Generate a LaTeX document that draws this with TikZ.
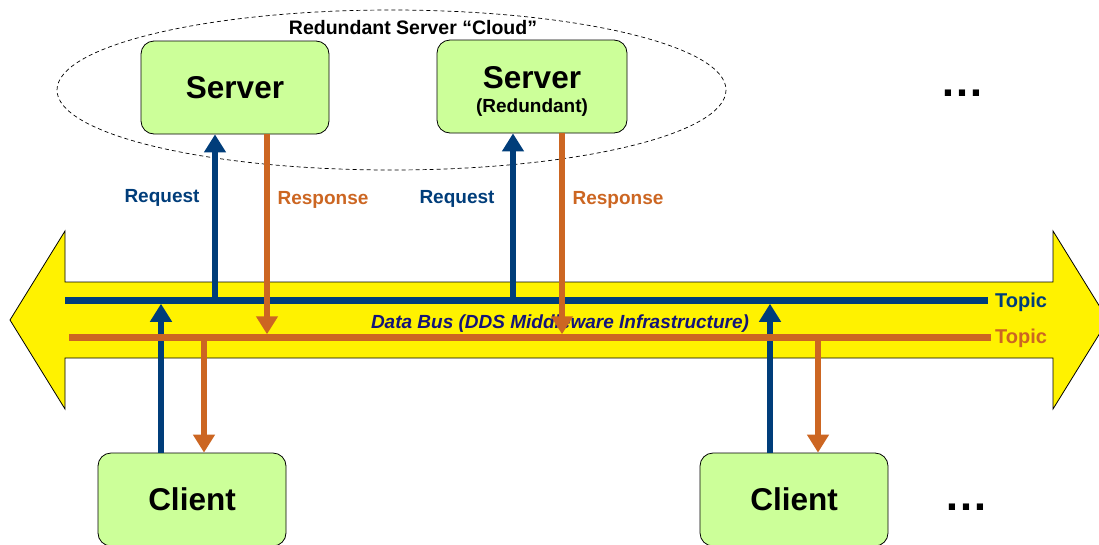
\documentclass[tikz,border=0pt]{standalone}
\usepackage{fontspec}
\setmainfont{Liberation Sans}
\usetikzlibrary{arrows.meta}
\definecolor{ddsblue}{RGB}{0,61,122}
\definecolor{ddsorange}{RGB}{204,102,34}
\definecolor{busnavy}{RGB}{20,20,120}
\definecolor{boxgreen}{RGB}{204,255,153}

\begin{document}
\begin{tikzpicture}[x=1pt,y=-1pt,
  box/.style={draw=black,line width=0.8pt,fill=boxgreen,rounded corners=13pt,minimum width=188pt,minimum height=93pt,inner sep=0pt,align=center,font=\fontsize{31.5}{24}\selectfont\bfseries},
  req/.style={draw=ddsblue,line width=6.5pt,-{Triangle[width=21pt,length=18pt]}},
  resp/.style={draw=ddsorange,line width=6.5pt,-{Triangle[width=21pt,length=18pt]}},
  lbl/.style={inner sep=0pt,anchor=base,font=\fontsize{19}{20}\selectfont\bfseries},
  dots/.style={inner sep=0pt,anchor=base,font=\fontsize{44}{44}\selectfont\bfseries}]
\useasboundingbox (0,0) rectangle (1099,544);
\clip (0,0) rectangle (1099,544);
\fill[yellow,draw=black,line width=0.8pt] (10,320) -- (65,231) -- (65,282) -- (1053,282) -- (1053,231) -- (1108,320) -- (1053,409) -- (1053,358) -- (65,358) -- (65,409) -- cycle;
\draw[dash pattern=on 4pt off 3pt,line width=0.7pt] (391.5,90) ellipse [x radius=334.5,y radius=80];
\node[lbl,font=\fontsize{19.5}{20}\selectfont\bfseries] (cloud) at (413,34) {Redundant Server “Cloud”};
\node[box] (srv1) at (235,87.5) {Server};
\node[box,minimum width=190pt] (srv2) at (532,86.5) {\rule{0pt}{31pt}Server\\\fontsize{19}{24}\selectfont(Redundant)};
\node[box] (cli1) at (192,499.5) {Client};
\node[box] (cli2) at (794,499.5) {Client};
\node[dots] (more1) at (962,96.5) {…};
\node[dots] (more2) at (966,510.5) {…};
\coordinate (tb0) at (65,300.5);
\coordinate (tb1) at (988,300.5);
\coordinate (to0) at (69,337.5);
\coordinate (to1) at (991,337.5);
\draw[draw=ddsblue,line width=6.5pt] (tb0) -- (tb1);
\node[lbl,anchor=base west,text=ddsblue,font=\fontsize{20}{20}\selectfont\bfseries] (topicb) at (995,307.5) {Topic};
\coordinate (rq1) at (215,300.5);
\coordinate (rq2) at (513,300.5);
\coordinate (rq3) at (161,303.75);
\coordinate (rq4) at (770,303.75);
\draw[req] (rq1) -- (rq1 |- srv1.south);
\draw[req] (rq2) -- (rq2 |- srv2.south);
\draw[req] (rq3 |- cli1.north) -- (rq3);
\draw[req] (rq4 |- cli2.north) -- (rq4);
\node[lbl,text=ddsblue] (req1) at (162,202) {Request};
\node[lbl,text=ddsblue] (req2) at (457,203) {Request};
\node[inner sep=0pt,anchor=base,text=busnavy,font=\fontsize{19}{20}\selectfont\bfseries\itshape] (bus) at (560,328) {Data Bus (DDS Middleware Infrastructure)};
\draw[draw=ddsorange,line width=6.5pt] (to0) -- (to1);
\node[lbl,anchor=base west,text=ddsorange,font=\fontsize{20}{20}\selectfont\bfseries] (topico) at (995,343) {Topic};
\coordinate (rs1) at (267,334.25);
\coordinate (rs2) at (562,334.25);
\coordinate (rs3) at (204,337.5);
\coordinate (rs4) at (818,337.5);
\draw[resp] (rs1 |- srv1.south) -- (rs1);
\draw[resp] (rs2 |- srv2.south) -- (rs2);
\draw[resp] (rs3) -- (rs3 |- cli1.north);
\draw[resp] (rs4) -- (rs4 |- cli2.north);
\node[lbl,text=ddsorange] (resp1) at (323,204.5) {Response};
\node[lbl,text=ddsorange] (resp2) at (618,204.5) {Response};
\end{tikzpicture}
\end{document}
